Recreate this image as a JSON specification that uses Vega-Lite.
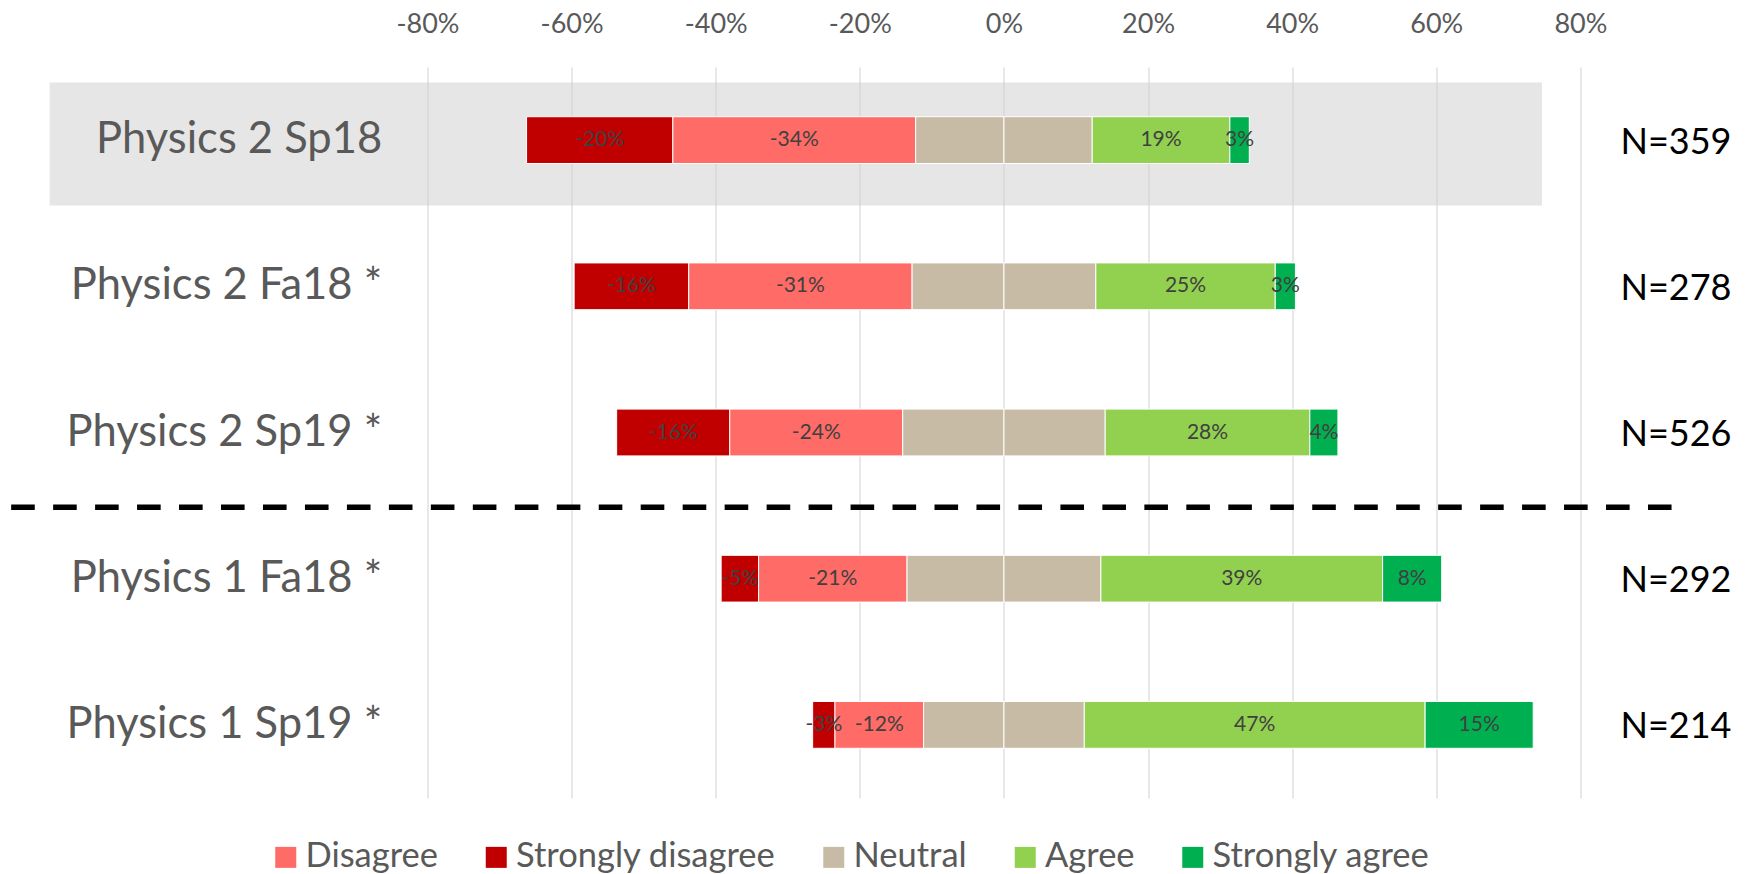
{
  "$schema": "https://vega.github.io/schema/vega-lite/v6.json",
  "width": 1152.9,
  "height": 731,
  "autosize": {"type": "none"},
  "padding": {"left": 427.5, "top": 67, "right": 169.6, "bottom": 76},
  "background": "white",
  "config": {
    "view": {"stroke": null},
    "font": "Lato",
    "locale": {"number": {"decimal": ".", "thousands": ",", "grouping": [3], "currency": ["$", ""], "minus": "-"}}
  },
  "datasets": {
    "resp": [
      {"category": "Physics 2 Sp18", "response": "Strongly disagree", "ord": 2, "value": -0.203},
      {"category": "Physics 2 Sp18", "response": "Disagree", "ord": 1, "value": -0.337},
      {"category": "Physics 2 Sp18", "response": "Neutral", "ord": 0, "value": -0.1225},
      {"category": "Physics 2 Sp18", "response": "Neutral", "ord": 0, "value": 0.1225},
      {"category": "Physics 2 Sp18", "response": "Agree", "ord": 1, "value": 0.191},
      {"category": "Physics 2 Sp18", "response": "Strongly agree", "ord": 2, "value": 0.027},
      {"category": "Physics 2 Fa18 *", "response": "Strongly disagree", "ord": 2, "value": -0.159},
      {"category": "Physics 2 Fa18 *", "response": "Disagree", "ord": 1, "value": -0.31},
      {"category": "Physics 2 Fa18 *", "response": "Neutral", "ord": 0, "value": -0.1275},
      {"category": "Physics 2 Fa18 *", "response": "Neutral", "ord": 0, "value": 0.1275},
      {"category": "Physics 2 Fa18 *", "response": "Agree", "ord": 1, "value": 0.249},
      {"category": "Physics 2 Fa18 *", "response": "Strongly agree", "ord": 2, "value": 0.028},
      {"category": "Physics 2 Sp19 *", "response": "Strongly disagree", "ord": 2, "value": -0.157},
      {"category": "Physics 2 Sp19 *", "response": "Disagree", "ord": 1, "value": -0.24},
      {"category": "Physics 2 Sp19 *", "response": "Neutral", "ord": 0, "value": -0.1405},
      {"category": "Physics 2 Sp19 *", "response": "Neutral", "ord": 0, "value": 0.1405},
      {"category": "Physics 2 Sp19 *", "response": "Agree", "ord": 1, "value": 0.284},
      {"category": "Physics 2 Sp19 *", "response": "Strongly agree", "ord": 2, "value": 0.039},
      {"category": "Physics 1 Fa18 *", "response": "Strongly disagree", "ord": 2, "value": -0.052},
      {"category": "Physics 1 Fa18 *", "response": "Disagree", "ord": 1, "value": -0.206},
      {"category": "Physics 1 Fa18 *", "response": "Neutral", "ord": 0, "value": -0.1345},
      {"category": "Physics 1 Fa18 *", "response": "Neutral", "ord": 0, "value": 0.1345},
      {"category": "Physics 1 Fa18 *", "response": "Agree", "ord": 1, "value": 0.391},
      {"category": "Physics 1 Fa18 *", "response": "Strongly agree", "ord": 2, "value": 0.082},
      {"category": "Physics 1 Sp19 *", "response": "Strongly disagree", "ord": 2, "value": -0.031},
      {"category": "Physics 1 Sp19 *", "response": "Disagree", "ord": 1, "value": -0.123},
      {"category": "Physics 1 Sp19 *", "response": "Neutral", "ord": 0, "value": -0.1115},
      {"category": "Physics 1 Sp19 *", "response": "Neutral", "ord": 0, "value": 0.1115},
      {"category": "Physics 1 Sp19 *", "response": "Agree", "ord": 1, "value": 0.473},
      {"category": "Physics 1 Sp19 *", "response": "Strongly agree", "ord": 2, "value": 0.15}
    ],
    "ns": [
      {"category": "Physics 2 Sp18", "label": "N=359"},
      {"category": "Physics 2 Fa18 *", "label": "N=278"},
      {"category": "Physics 2 Sp19 *", "label": "N=526"},
      {"category": "Physics 1 Fa18 *", "label": "N=292"},
      {"category": "Physics 1 Sp19 *", "label": "N=214"}
    ]
  },
  "data": {"name": "resp"},
  "transform": [
    {"stack": "value", "groupby": ["category"], "sort": [{"field": "ord", "order": "ascending"}], "as": ["x0", "x1"], "offset": "zero"},
    {"calculate": "(datum.x0 + datum.x1) / 2", "as": "mid"}
  ],
  "encoding": {
    "y": {
      "field": "category",
      "type": "nominal",
      "scale": {
        "domain": ["Physics 2 Sp18", "Physics 2 Fa18 *", "Physics 2 Sp19 *", "Physics 1 Fa18 *", "Physics 1 Sp19 *"],
        "paddingInner": 0,
        "paddingOuter": 0
      },
      "axis": {
        "title": null,
        "orient": "left",
        "labelFontSize": 43.5,
        "labelColor": "#595959",
        "labelFont": "Lato",
        "labelPadding": 45.8,
        "ticks": false,
        "tickSize": 0,
        "domain": false,
        "grid": false,
        "labelLimit": 500,
        "zindex": 1
      }
    }
  },
  "layer": [
    {
      "data": {"name": "ns"},
      "transform": [{"filter": "datum.category === 'Physics 2 Sp18'"}],
      "mark": {"type": "bar", "height": {"band": 0.84}, "yOffset": 3.9, "color": "#CFCDCD", "opacity": 0.5},
      "encoding": {
        "x": {
          "datum": -1.3243,
          "type": "quantitative",
          "scale": {"domain": [-0.8, 0.8], "nice": false, "zero": false},
          "axis": {
            "title": null,
            "orient": "top",
            "values": [-0.8, -0.6, -0.4, -0.2, 0, 0.2, 0.4, 0.6, 0.8],
            "format": ".0%",
            "labelFontSize": 27,
            "labelColor": "#595959",
            "labelFont": "Lato",
            "labelPadding": 28.7,
            "labelFlush": false,
            "labelOverlap": false,
            "ticks": false,
            "tickSize": 0,
            "domain": false,
            "grid": true,
            "gridColor": "#D9D9D9",
            "gridWidth": 1.2
          }
        },
        "x2": {"datum": 0.7466}
      }
    },
    {
      "data": {"name": "ns"},
      "transform": [{"filter": "datum.category === 'Physics 1 Fa18 *'"}],
      "mark": {"type": "rule", "color": "#000000", "strokeWidth": 5.5, "strokeDash": [23.6, 18.37], "strokeCap": "butt", "yOffset": 1.7},
      "encoding": {
        "y": {"field": "category", "type": "nominal", "bandPosition": 0},
        "x": {"datum": -1.3778, "type": "quantitative"},
        "x2": {"datum": 0.9265}
      }
    },
    {
      "mark": {"type": "bar", "height": {"band": 0.32}, "stroke": "#ffffff", "strokeWidth": 1},
      "encoding": {
        "x": {"field": "x0", "type": "quantitative"},
        "x2": {"field": "x1"},
        "color": {
          "field": "response",
          "type": "nominal",
          "scale": {
            "domain": ["Disagree", "Strongly disagree", "Neutral", "Agree", "Strongly agree"],
            "range": ["#FF6B66", "#C00000", "#C8BBA5", "#92D050", "#00B050"]
          },
          "legend": {
            "title": null,
            "orient": "none",
            "direction": "horizontal",
            "legendX": -159,
            "legendY": 773,
            "symbolType": "square",
            "symbolSize": 441,
            "symbolStrokeWidth": 0,
            "labelFontSize": 34.5,
            "labelFont": "Lato",
            "labelColor": "#595959",
            "labelOffset": 2.5,
            "columnPadding": 40.5,
            "labelLimit": 500,
            "padding": 0
          }
        }
      }
    },
    {
      "transform": [{"filter": "datum.response !== 'Neutral'"}],
      "mark": {"type": "text", "fontSize": 21, "color": "#404040", "font": "Lato", "baseline": "middle", "align": "center"},
      "encoding": {
        "x": {"field": "mid", "type": "quantitative"},
        "text": {"field": "value", "type": "quantitative", "format": ".0%"}
      }
    },
    {
      "data": {"name": "ns"},
      "mark": {"type": "text", "fontSize": 36, "color": "#000000", "font": "Lato", "align": "left", "baseline": "middle", "dy": 2.5},
      "encoding": {
        "y": {"field": "category", "type": "nominal"},
        "x": {"datum": 0.8556, "type": "quantitative"},
        "text": {"field": "label"}
      }
    }
  ]
}
